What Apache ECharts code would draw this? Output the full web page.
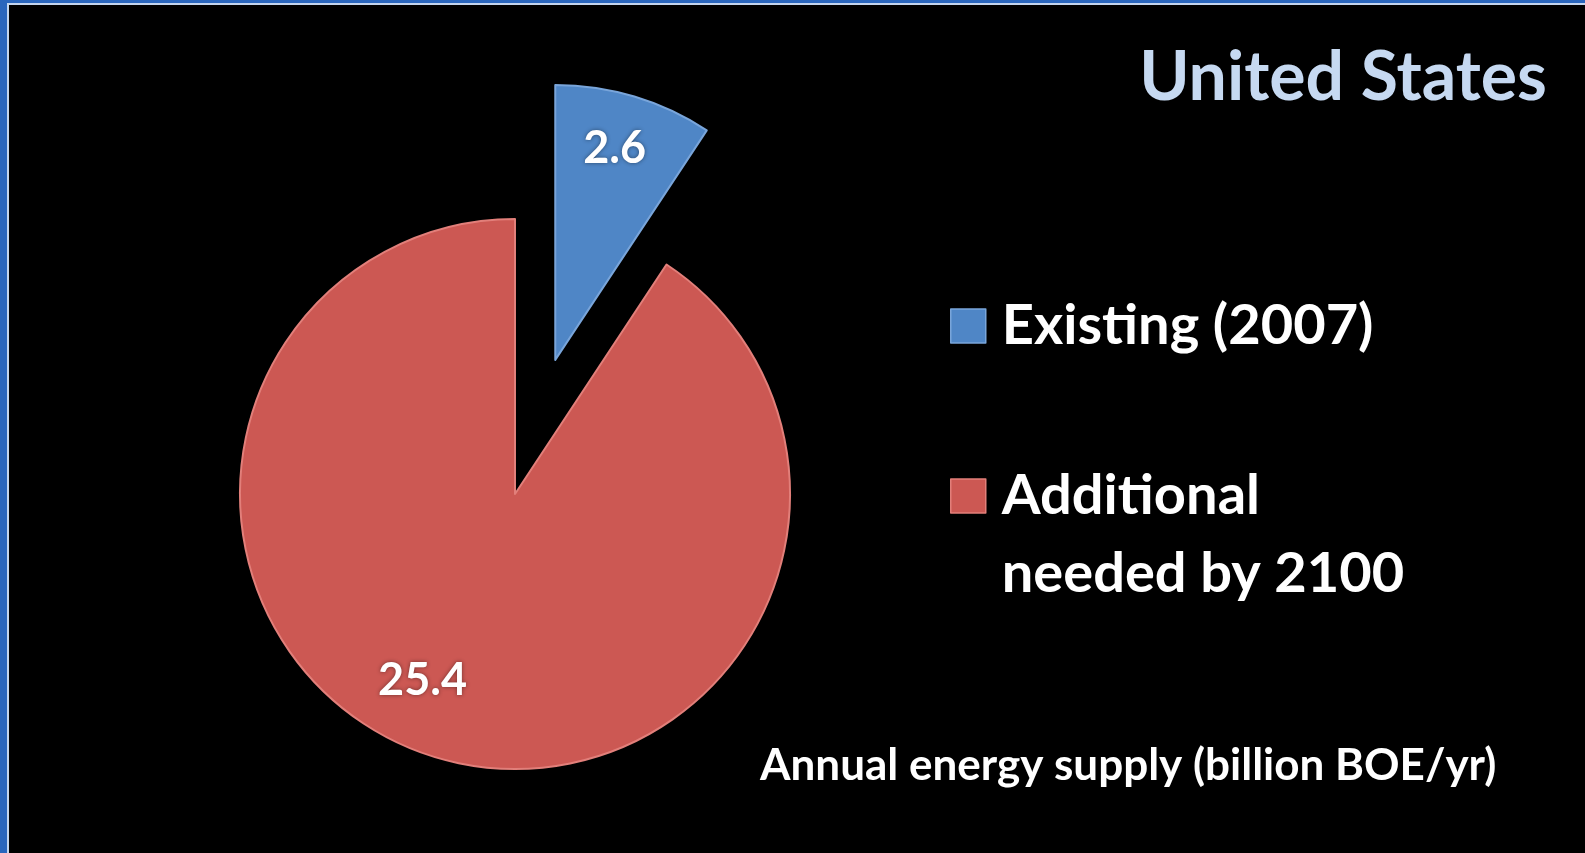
<!DOCTYPE html>
<html>
<head>
<meta charset="utf-8">
<script src="https://cdn.jsdelivr.net/npm/echarts@6/dist/echarts.min.js"></script>
<style>
  html, body { margin: 0; padding: 0; background: #000; }
  #chart { width: 1585px; height: 853px; }
</style>
</head>
<body>
<div id="chart"></div>
<script>
// Annual energy supply for the United States, billion BOE per year
const categories = ['Existing (2007)', 'Additional\nneeded by 2100'];
const supplyValues = [2.6, 25.4];
const sliceColors = ['#4f86c6', '#cc5853'];
const sliceEdges = ['#79a5da', '#e27f7a'];
const titleText = 'United States';
const unitNote = 'Annual energy supply (billion BOE/yr)';

const FONT = 'Lato, "Open Sans", sans-serif';
const BORDER_BLUE = '#2a66bd';
const BORDER_LIGHT = '#c3d5ee';

const chart = echarts.init(document.getElementById('chart'), null, { renderer: 'canvas' });

// label nudges so the values sit where the slices leave room for them
const labelShift = [[19, -77], [-52, 52]];

const pieData = categories.map((name, i) => ({
  name: name,
  value: supplyValues[i],
  selected: i === 0,
  itemStyle: {
    color: sliceColors[i],
    borderColor: sliceEdges[i],
    borderWidth: 2
  }
}));

const legendText = {
  color: '#ffffff',
  fontFamily: FONT,
  fontWeight: 'bold',
  fontSize: 56
};

chart.setOption({
  backgroundColor: '#000000',
  animation: false,
  title: {
    text: titleText,
    right: 33,
    top: 39,
    textStyle: {
      color: '#c6d9f1',
      fontFamily: FONT,
      fontWeight: 'bold',
      fontSize: 68
    }
  },
  legend: [
    {
      data: [categories[0]],
      left: 945,
      top: 290,
      icon: 'rect',
      itemWidth: 35,
      itemHeight: 34,
      selectedMode: false,
      itemStyle: { borderColor: sliceEdges[0], borderWidth: 1.5 },
      textStyle: Object.assign({ lineHeight: 62, padding: [0, 0, 0, 11] }, legendText)
    },
    {
      data: [categories[1]],
      left: 945,
      top: 374,
      icon: 'rect',
      itemWidth: 35,
      itemHeight: 34,
      selectedMode: false,
      itemStyle: { borderColor: sliceEdges[1], borderWidth: 1.5 },
      // an empty first line keeps the icon level with "Additional"
      formatter: name => '\n' + name,
      textStyle: Object.assign({ lineHeight: 78, padding: [0, 0, 0, 11] }, legendText)
    }
  ],
  graphic: [
    { type: 'rect', left: 0, top: 0, shape: { width: 7, height: 853 }, style: { fill: BORDER_BLUE }, silent: true },
    { type: 'rect', left: 7, top: 4, shape: { width: 2, height: 849 }, style: { fill: BORDER_LIGHT }, silent: true },
    { type: 'rect', left: 0, top: 0, shape: { width: 1585, height: 3 }, style: { fill: BORDER_BLUE }, silent: true },
    { type: 'rect', left: 7, top: 3, shape: { width: 1578, height: 2 }, style: { fill: BORDER_LIGHT }, silent: true },
    {
      type: 'text',
      left: 760,
      top: 744,
      style: {
        text: unitNote,
        fill: '#ffffff',
        font: 'bold 44px ' + FONT
      },
      silent: true
    }
  ],
  series: [
    {
      type: 'pie',
      center: [515, 494],
      radius: 275,
      startAngle: 90,
      clockwise: true,
      selectedMode: 'single',
      selectedOffset: 140,
      silent: true,
      avoidLabelOverlap: false,
      emphasis: { disabled: true },
      label: {
        show: true,
        position: 'inside',
        formatter: p => p.value.toFixed(1),
        color: '#ffffff',
        fontFamily: FONT,
        fontWeight: 'bold',
        fontSize: 45,
        textShadowColor: 'rgba(0,0,0,0.45)',
        textShadowBlur: 4
      },
      labelLayout: p => ({ dx: labelShift[p.dataIndex][0], dy: labelShift[p.dataIndex][1] }),
      labelLine: { show: false },
      data: pieData
    }
  ]
});
</script>
</body>
</html>
